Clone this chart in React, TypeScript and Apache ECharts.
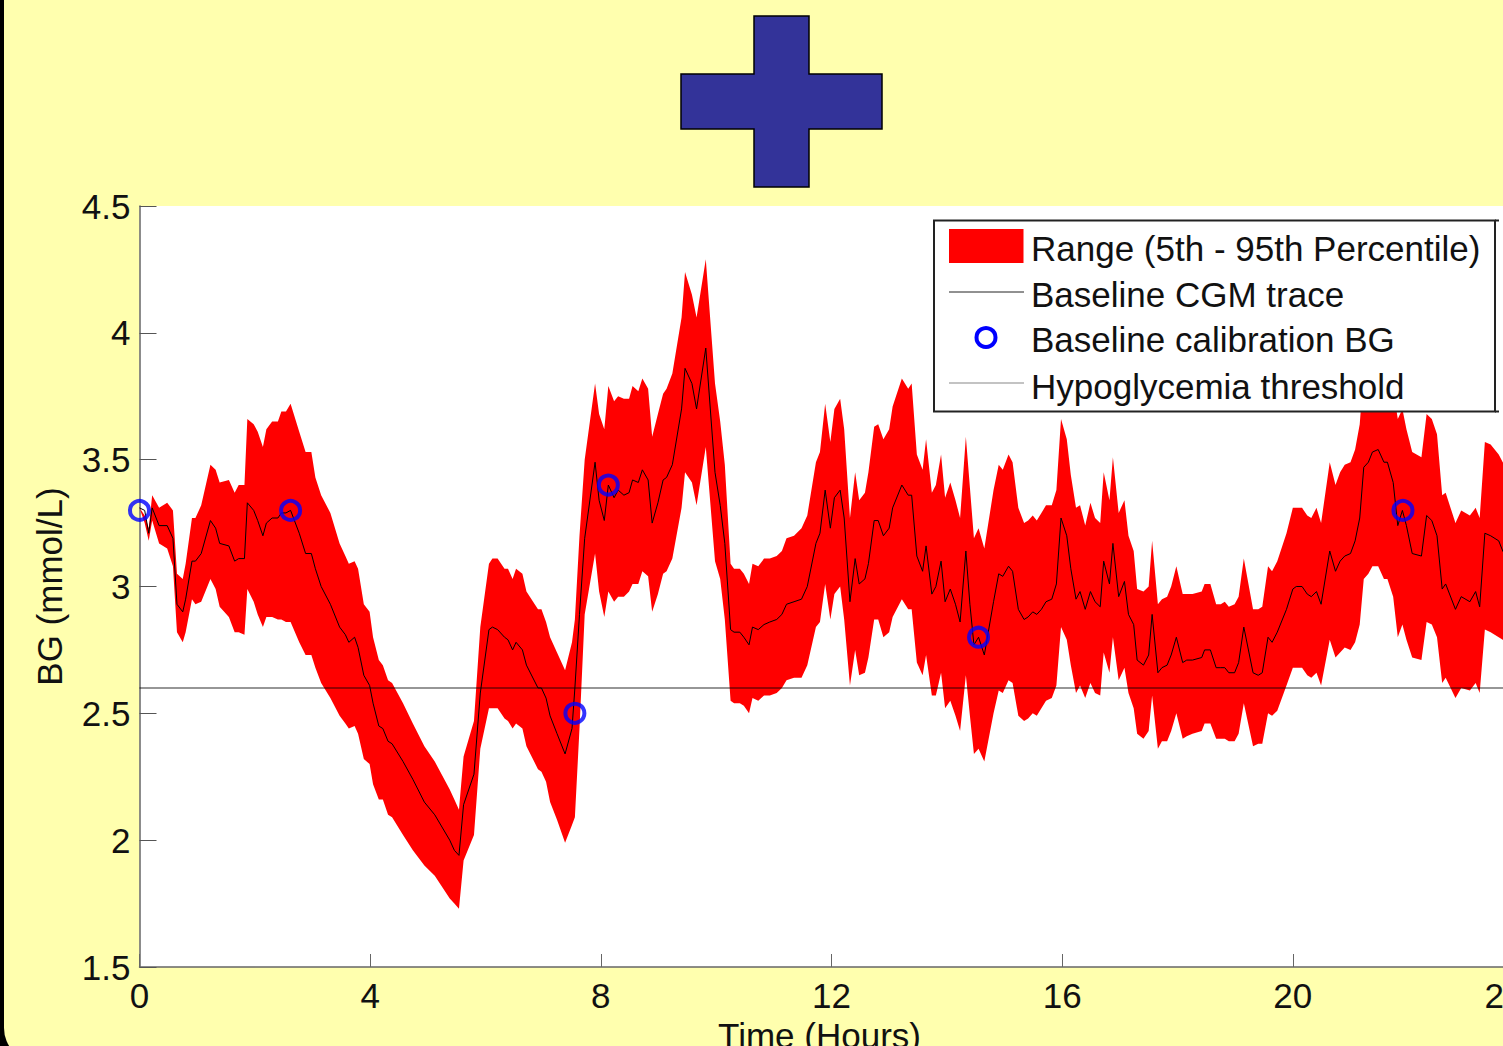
import React, { useEffect, useRef } from "react";
import * as echarts from "echarts";

const hours = [
  0, 0.09, 0.16, 0.22, 0.34, 0.48, 0.58, 0.65, 0.75, 0.8, 0.91, 0.97, 1.07, 1.23, 1.32, 1.39, 1.55, 1.65, 1.72, 1.82,
  1.87, 1.98, 2.05, 2.14, 2.2, 2.3, 2.4, 2.46, 2.54, 2.62, 2.77, 2.88, 2.98, 3.05, 3.15, 3.31, 3.47, 3.57, 3.63, 3.73,
  3.79, 3.89, 3.99, 4.05, 4.15, 4.22, 4.31, 4.38, 4.57, 4.74, 4.94, 5.12, 5.38, 5.46, 5.54, 5.62, 5.8, 5.91, 6.06, 6.12,
  6.21, 6.33, 6.39, 6.47, 6.53, 6.64, 6.71, 6.91, 6.97, 7.05, 7.12, 7.24, 7.38, 7.5, 7.55, 7.63, 7.72, 7.9, 7.97, 8.06,
  8.13, 8.23, 8.3, 8.4, 8.49, 8.55, 8.65, 8.72, 8.82, 8.89, 8.99, 9.08, 9.14, 9.24, 9.4, 9.46, 9.58, 9.66, 9.82, 9.98,
  10.07, 10.15, 10.25, 10.31, 10.41, 10.48, 10.57, 10.63, 10.73, 10.83, 10.93, 11.05, 11.14, 11.22, 11.35, 11.48, 11.58, 11.73, 11.8, 11.89,
  11.98, 12.05, 12.15, 12.22, 12.32, 12.41, 12.48, 12.58, 12.64, 12.74, 12.81, 12.9, 13.0, 13.06, 13.22, 13.33, 13.39, 13.48, 13.58, 13.64,
  13.74, 13.81, 13.9, 13.97, 14.06, 14.15, 14.23, 14.33, 14.4, 14.47, 14.55, 14.65, 14.81, 14.9, 14.97, 15.07, 15.14, 15.24, 15.34, 15.41,
  15.49, 15.56, 15.64, 15.72, 15.82, 15.9, 15.98, 16.08, 16.15, 16.24, 16.31, 16.4, 16.49, 16.57, 16.66, 16.72, 16.82, 16.88, 16.98, 17.08,
  17.15, 17.24, 17.3, 17.41, 17.5, 17.56, 17.66, 17.73, 17.82, 17.89, 17.98, 18.09, 18.16, 18.26, 18.42, 18.47, 18.57, 18.67, 18.75, 18.82,
  18.89, 18.99, 19.06, 19.15, 19.31, 19.4, 19.47, 19.57, 19.64, 19.73, 19.89, 20.0, 20.06, 20.16, 20.25, 20.32, 20.41, 20.49, 20.64, 20.74,
  20.82, 20.9, 21.0, 21.08, 21.16, 21.23, 21.31, 21.38, 21.48, 21.58, 21.64, 21.74, 21.82, 21.9, 21.97, 22.07, 22.23, 22.32, 22.41, 22.5,
  22.59, 22.65, 22.82, 22.92, 23.07, 23.17, 23.24, 23.33, 23.43, 23.57, 23.64, 23.75,
];

const traceBG = [
  3.31, 3.3, 3.21, 3.31, 3.24, 3.24, 3.19, 2.93, 2.9, 2.95, 3.1, 3.1, 3.13, 3.26, 3.23, 3.17, 3.16, 3.1, 3.11, 3.11,
  3.33, 3.3, 3.26, 3.2, 3.25, 3.27, 3.27, 3.29, 3.29, 3.3, 3.21, 3.13, 3.13, 3.07, 3.0, 2.93, 2.84, 2.81, 2.78, 2.8,
  2.76, 2.65, 2.61, 2.54, 2.45, 2.44, 2.39, 2.38, 2.31, 2.24, 2.15, 2.1, 2.0, 1.96, 1.94, 2.14, 2.26, 2.58, 2.83, 2.84,
  2.83, 2.8, 2.79, 2.75, 2.78, 2.75, 2.69, 2.6, 2.6, 2.56, 2.49, 2.42, 2.34, 2.44, 2.6, 2.89, 3.19, 3.49, 3.34, 3.26,
  3.4, 3.35, 3.38, 3.36, 3.37, 3.42, 3.41, 3.46, 3.42, 3.25, 3.33, 3.42, 3.43, 3.48, 3.7, 3.86, 3.8, 3.7, 3.94, 3.45,
  3.32, 3.17, 2.83, 2.82, 2.82, 2.8, 2.77, 2.84, 2.83, 2.85, 2.86, 2.87, 2.89, 2.93, 2.94, 2.95, 3.0, 3.17, 3.21, 3.38,
  3.23, 3.35, 3.38, 3.27, 2.94, 3.11, 3.01, 3.03, 3.09, 3.26, 3.26, 3.2, 3.23, 3.31, 3.4, 3.36, 3.36, 3.12, 3.06, 3.16,
  2.97, 3.0, 3.1, 2.94, 2.99, 2.93, 2.86, 3.14, 2.93, 2.77, 2.8, 2.73, 2.94, 3.05, 3.04, 3.08, 3.06, 2.91, 2.87, 2.88,
  2.9, 2.89, 2.91, 2.94, 2.95, 3.01, 3.27, 3.2, 3.07, 2.95, 2.98, 2.91, 2.98, 2.94, 2.92, 3.1, 3.01, 3.17, 2.96, 3.02,
  2.89, 2.85, 2.71, 2.69, 2.73, 2.89, 2.66, 2.68, 2.69, 2.73, 2.8, 2.7, 2.71, 2.71, 2.72, 2.75, 2.75, 2.68, 2.68, 2.68,
  2.66, 2.66, 2.7, 2.84, 2.66, 2.65, 2.66, 2.8, 2.78, 2.82, 2.91, 2.99, 3.0, 3.0, 2.97, 2.96, 2.98, 2.93, 3.14, 3.06,
  3.1, 3.12, 3.13, 3.18, 3.27, 3.47, 3.49, 3.53, 3.54, 3.49, 3.49, 3.41, 3.24, 3.3, 3.24, 3.13, 3.12, 3.28, 3.26, 3.2,
  2.99, 3.01, 2.91, 2.96, 2.94, 2.98, 2.92, 3.21, 3.2, 3.18, 3.14, 3.1,
];

const upperBG = [
  3.31, 3.28, 3.23, 3.36, 3.31, 3.33, 3.3, 3.05, 3.03, 3.09, 3.27, 3.27, 3.32, 3.48, 3.46, 3.41, 3.42, 3.37, 3.4, 3.4,
  3.66, 3.64, 3.61, 3.55, 3.62, 3.65, 3.65, 3.69, 3.69, 3.72, 3.61, 3.53, 3.53, 3.43, 3.36, 3.29, 3.17, 3.12, 3.09, 3.1,
  3.07, 2.93, 2.9, 2.8, 2.71, 2.69, 2.63, 2.62, 2.54, 2.46, 2.37, 2.31, 2.2, 2.16, 2.12, 2.33, 2.47, 2.84, 3.09, 3.11,
  3.11, 3.07, 3.07, 3.03, 3.07, 3.05, 2.98, 2.91, 2.91, 2.86, 2.8, 2.74, 2.67, 2.78, 2.87, 3.2, 3.5, 3.8, 3.68, 3.62,
  3.79, 3.73, 3.75, 3.74, 3.74, 3.79, 3.77, 3.82, 3.78, 3.59, 3.68, 3.76, 3.78, 3.84, 4.06, 4.24, 4.15, 4.06, 4.29, 3.8,
  3.65, 3.48, 3.09, 3.07, 3.07, 3.05, 3.01, 3.09, 3.08, 3.11, 3.11, 3.12, 3.14, 3.19, 3.2, 3.23, 3.28, 3.49, 3.53, 3.72,
  3.57, 3.7, 3.74, 3.62, 3.27, 3.45, 3.34, 3.37, 3.45, 3.63, 3.64, 3.58, 3.62, 3.71, 3.82, 3.78, 3.8, 3.52, 3.46, 3.58,
  3.37, 3.4, 3.52, 3.35, 3.41, 3.34, 3.27, 3.59, 3.39, 3.19, 3.23, 3.15, 3.38, 3.48, 3.46, 3.52, 3.49, 3.31, 3.25, 3.26,
  3.28, 3.26, 3.29, 3.32, 3.32, 3.38, 3.66, 3.58, 3.44, 3.31, 3.32, 3.24, 3.33, 3.27, 3.25, 3.45, 3.34, 3.51, 3.29, 3.34,
  3.2, 3.14, 2.99, 2.98, 3.0, 3.18, 2.93, 2.95, 2.96, 3.0, 3.08, 2.97, 2.97, 2.97, 2.98, 3.01, 3.01, 2.93, 2.93, 2.94,
  2.92, 2.93, 2.96, 3.11, 2.91, 2.91, 2.92, 3.08, 3.06, 3.1, 3.21, 3.31, 3.31, 3.31, 3.28, 3.27, 3.31, 3.25, 3.49, 3.4,
  3.45, 3.48, 3.49, 3.54, 3.64, 3.85, 3.87, 3.92, 3.93, 3.87, 3.87, 3.78, 3.66, 3.7, 3.62, 3.53, 3.51, 3.68, 3.66, 3.6,
  3.36, 3.37, 3.25, 3.3, 3.28, 3.31, 3.27, 3.57, 3.56, 3.52, 3.49, 3.45,
];

const lowerBG = [
  3.31, 3.25, 3.18, 3.26, 3.17, 3.15, 3.08, 2.82, 2.78, 2.82, 2.95, 2.93, 2.94, 3.03, 2.99, 2.92, 2.88, 2.82, 2.82, 2.81,
  2.99, 2.94, 2.89, 2.84, 2.88, 2.88, 2.87, 2.87, 2.86, 2.86, 2.78, 2.73, 2.73, 2.68, 2.62, 2.56, 2.49, 2.46, 2.44, 2.45,
  2.42, 2.32, 2.3, 2.22, 2.16, 2.16, 2.1, 2.09, 2.02, 1.96, 1.9, 1.86, 1.77, 1.75, 1.73, 1.92, 2.02, 2.36, 2.52, 2.52,
  2.52, 2.48, 2.47, 2.44, 2.46, 2.44, 2.37, 2.28, 2.27, 2.23, 2.15, 2.08, 1.99, 2.06, 2.09, 2.44, 2.89, 3.13, 2.98, 2.88,
  2.98, 2.94, 2.96, 2.96, 2.98, 3.01, 3.01, 3.06, 3.04, 2.9, 2.97, 3.05, 3.06, 3.11, 3.31, 3.45, 3.41, 3.32, 3.55, 3.1,
  3.03, 2.87, 2.55, 2.54, 2.54, 2.53, 2.5, 2.56, 2.55, 2.57, 2.57, 2.58, 2.6, 2.63, 2.64, 2.64, 2.69, 2.84, 2.86, 3.01,
  2.87, 2.97, 3.0, 2.87, 2.61, 2.75, 2.65, 2.66, 2.72, 2.87, 2.87, 2.8, 2.82, 2.88, 2.95, 2.91, 2.91, 2.7, 2.65, 2.73,
  2.57, 2.57, 2.66, 2.52, 2.55, 2.49, 2.43, 2.65, 2.49, 2.34, 2.36, 2.31, 2.5, 2.59, 2.58, 2.63, 2.62, 2.49, 2.47, 2.48,
  2.5, 2.49, 2.52, 2.55, 2.56, 2.61, 2.84, 2.79, 2.69, 2.58, 2.61, 2.56, 2.62, 2.58, 2.57, 2.74, 2.66, 2.8, 2.63, 2.68,
  2.58, 2.52, 2.42, 2.4, 2.43, 2.57, 2.36, 2.39, 2.39, 2.43, 2.5, 2.4, 2.41, 2.42, 2.43, 2.46, 2.46, 2.4, 2.4, 2.4,
  2.39, 2.39, 2.42, 2.54, 2.37, 2.38, 2.38, 2.5, 2.49, 2.51, 2.61, 2.68, 2.68, 2.68, 2.65, 2.64, 2.66, 2.61, 2.79, 2.72,
  2.74, 2.76, 2.75, 2.78, 2.85, 3.03, 3.05, 3.08, 3.08, 3.03, 3.03, 2.96, 2.8, 2.85, 2.79, 2.72, 2.71, 2.86, 2.85, 2.8,
  2.62, 2.64, 2.56, 2.6, 2.59, 2.62, 2.58, 2.83, 2.82, 2.8, 2.79, 2.76,
];

const calibrationHours = [0, 2.62, 7.55, 8.13, 14.55, 21.91];
const calibrationBG = [3.3, 3.3, 2.5, 3.4, 2.8, 3.3];
const thresholdHours = [0, 24];
const thresholdBG = [2.6, 2.6];

const legendLabels = [
  "Range (5th - 95th Percentile)",
  "Baseline CGM trace",
  "Baseline calibration BG",
  "Hypoglycemia threshold",
];

const FONT = '"Liberation Sans", Arial, sans-serif';
const YELLOW = "#FFFFAE";

export default function App() {
  const ref = useRef<HTMLDivElement>(null);

  useEffect(() => {
    document.body.style.margin = "0";
    const chart = echarts.init(ref.current!, null, { renderer: "svg" });
    const legendTextY = [248, 294, 339, 386];
    chart.setOption({
      animation: false,
      backgroundColor: "#000",
      textStyle: { fontFamily: FONT },
      grid: {
        left: 139.5,
        top: 206,
        width: 1384,
        height: 761,
        show: true,
        backgroundColor: "#fff",
        borderWidth: 0,
        containLabel: false,
        outerBoundsMode: "none",
      },
      xAxis: {
        type: "value",
        min: 0,
        max: 24,
        interval: 4,
        name: "Time (Hours)",
        nameLocation: "middle",
        nameGap: 48,
        nameTextStyle: { fontSize: 35, color: "#111", fontFamily: FONT, padding: [0, 24, 0, 0] },
        axisLine: { show: true, lineStyle: { color: "#666", width: 1.5 } },
        axisTick: { show: true, inside: true, length: 13, lineStyle: { color: "#666", width: 1 } },
        axisLabel: {
          fontSize: 35,
          color: "#111",
          margin: 11,
          fontFamily: FONT,
          showMaxLabel: true,
          alignMaxLabel: "right",
          hideOverlap: false,
        },
        splitLine: { show: false },
      },
      yAxis: {
        type: "value",
        min: 1.5,
        max: 4.5,
        interval: 0.5,
        name: "BG (mmol/L)",
        nameLocation: "middle",
        nameGap: 73,
        nameTextStyle: { fontSize: 35, color: "#111", fontFamily: FONT },
        axisLine: { show: true, onZero: false, lineStyle: { color: "#666", width: 1.5 } },
        axisTick: { show: true, inside: true, length: 17, lineStyle: { color: "#555", width: 1 } },
        axisLabel: { fontSize: 35, color: "#111", margin: 9, fontFamily: FONT, showMinLabel: true, hideOverlap: false },
        splitLine: { show: false },
      },
      series: [
        {
          name: legendLabels[0],
          type: "custom",
          clip: true,
          z: 2,
          data: hours.map((h, i) => [h, lowerBG[i], upperBG[i]]),
          encode: { x: 0, y: [1, 2] },
          renderItem: (params: any, api: any) => {
            if (params.dataIndex !== 0) return null;
            const n = Math.min(hours.length, upperBG.length, lowerBG.length);
            const pts: number[][] = [];
            for (let i = 0; i < n; i++) pts.push(api.coord([hours[i], upperBG[i]]));
            for (let i = n - 1; i >= 0; i--) pts.push(api.coord([hours[i], lowerBG[i]]));
            return { type: "polygon", shape: { points: pts }, style: { fill: "#FF0000", stroke: "none" } };
          },
        },
        {
          name: legendLabels[1],
          type: "line",
          z: 3,
          symbol: "none",
          lineStyle: { color: "#000", width: 1 },
          data: hours.map((h, i) => [h, traceBG[i]]),
        },
        {
          name: legendLabels[3],
          type: "line",
          z: 4,
          symbol: "none",
          lineStyle: { color: "rgba(0,0,0,0.55)", width: 1.5 },
          data: thresholdHours.map((h, i) => [h, thresholdBG[i]]),
        },
        {
          name: legendLabels[2],
          type: "scatter",
          z: 5,
          symbol: "circle",
          symbolSize: 19,
          itemStyle: { color: "rgba(0,0,0,0)", borderColor: "#0000FF", borderWidth: 4 },
          data: calibrationHours.map((h, i) => [h, calibrationBG[i]]),
        },
      ],
      graphic: [
        {
          type: "rect",
          z: -10,
          shape: { x: 4, y: -60, width: 1600, height: 1122, r: 34 },
          style: { fill: YELLOW },
        },
        {
          type: "polygon",
          z: 10,
          shape: {
            points: [
              [754, 16], [809, 16], [809, 74], [882, 74], [882, 129], [809, 129],
              [809, 187], [754, 187], [754, 129], [681, 129], [681, 74], [754, 74],
            ],
          },
          style: { fill: "#333399", stroke: "#000", lineWidth: 1.5 },
        },
        {
          type: "rect",
          z: 20,
          shape: { x: 934, y: 220.5, width: 561, height: 191 },
          style: { fill: "#fff", stroke: "#222", lineWidth: 2 },
        },
        {
          type: "line",
          z: 20,
          shape: { x1: 1495, y1: 220.5, x2: 1499, y2: 220.5 },
          style: { stroke: "#222", lineWidth: 2 },
        },
        {
          type: "line",
          z: 20,
          shape: { x1: 1495, y1: 411.5, x2: 1499, y2: 411.5 },
          style: { stroke: "#222", lineWidth: 2 },
        },
        {
          type: "rect",
          z: 21,
          shape: { x: 949, y: 229, width: 74.5, height: 34 },
          style: { fill: "#FF0000" },
        },
        {
          type: "line",
          z: 21,
          shape: { x1: 949, y1: 292, x2: 1024, y2: 292 },
          style: { stroke: "#222", lineWidth: 1 },
        },
        {
          type: "circle",
          z: 21,
          shape: { cx: 986, cy: 337.5, r: 9.5 },
          style: { fill: "none", stroke: "#0000FF", lineWidth: 4 },
        },
        {
          type: "line",
          z: 21,
          shape: { x1: 949, y1: 383, x2: 1024, y2: 383 },
          style: { stroke: "#888", lineWidth: 1.2 },
        },
        ...legendLabels.map((label, i) => ({
          type: "text",
          z: 21,
          x: 1031,
          y: legendTextY[i],
          style: { text: label, fill: "#111", font: `35px ${FONT}`, textAlign: "left", textVerticalAlign: "middle" },
        })),
      ],
    });
    return () => chart.dispose();
  }, []);

  return <div ref={ref} style={{ position: "absolute", left: 0, top: 0, width: 1503, height: 1046 }} />;
}
